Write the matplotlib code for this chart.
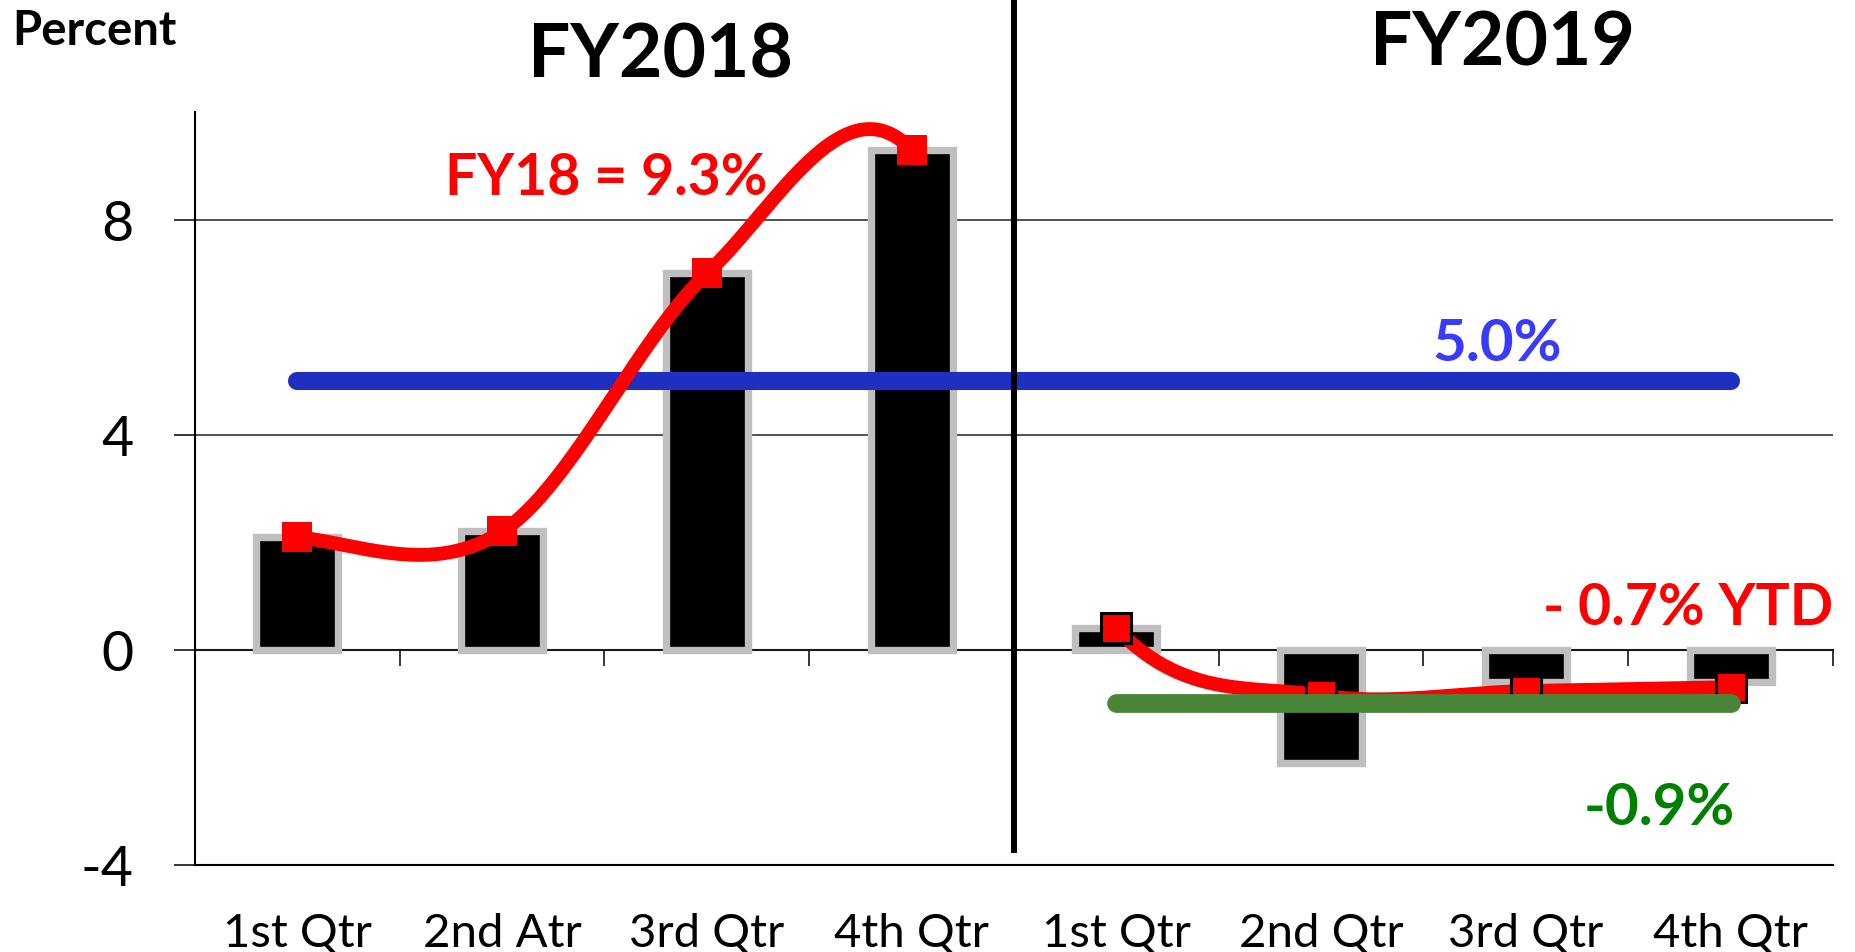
import numpy as np
import matplotlib
matplotlib.use('Agg')
import matplotlib.pyplot as plt

plt.rcParams['font.family'] = ['Lato', 'DejaVu Sans']

# data
quarters = ['1st Qtr', '2nd Atr', '3rd Qtr', '4th Qtr',
            '1st Qtr', '2nd Qtr', '3rd Qtr', '4th Qtr']
quarterly = [2.1, 2.2, 7.0, 9.3, 0.4, -2.1, -0.6, -0.6]
fy18_line = [2.1, 2.2, 7.0, 9.3]
fy19_ytd = [0.4, -0.85, -0.77, -0.7]
target = 5.0
fy19_level = -1.0


def smooth(xs, ys, m_start, m_end, n=60):
    # cubic hermite through the points, catmull-rom slopes inside
    xs = np.asarray(xs, float)
    ys = np.asarray(ys, float)
    m = np.empty(len(xs))
    m[0], m[-1] = m_start, m_end
    m[1:-1] = (ys[2:] - ys[:-2]) / (xs[2:] - xs[:-2])
    outx, outy = [], []
    for i in range(len(xs) - 1):
        h = xs[i + 1] - xs[i]
        t = np.linspace(0, 1, n)
        h00 = 2*t**3 - 3*t**2 + 1
        h10 = t**3 - 2*t**2 + t
        h01 = -2*t**3 + 3*t**2
        h11 = t**3 - t**2
        outx.append(xs[i] + t*h)
        outy.append(h00*ys[i] + h10*h*m[i] + h01*ys[i+1] + h11*h*m[i+1])
    return np.concatenate(outx), np.concatenate(outy)


x = np.arange(1, len(quarters) + 1)
x18 = x[:4]
x19 = x[4:]

fig = plt.figure(figsize=(18.55, 9.53), dpi=100)
ax = fig.add_axes([0.1051, 0.0916, 0.8830, 0.7896])

ax.bar(x, quarterly, width=0.4, color='black', edgecolor='#BFBFBF',
       linewidth=5.3, zorder=2)

ax.plot([x[0], x[-1]], [target, target], color='#1F30C0', lw=13,
        solid_capstyle='round', zorder=3)

sx, sy = smooth(x18, fy18_line, -0.5, -4.0)
ax.plot(sx, sy, color='red', lw=10, zorder=4)
ax.plot(x18, fy18_line, 's', color='red', ms=22, mew=0, zorder=4)

sx, sy = smooth(x19, fy19_ytd, -4.0, 0.05)
ax.plot(sx, sy, color='red', lw=10, zorder=4)
ax.plot(x19, fy19_ytd, 's', mfc='red', mec='black', ms=21, mew=2.2, zorder=4)

ax.plot([x19[0], x19[-1]], [fy19_level, fy19_level], color='#4A863A', lw=13.5,
        solid_capstyle='round', zorder=5)

# divider between the two years
ax.plot([4.5, 4.5], [-3.72, 12.03], color='black', lw=4.3, clip_on=False, zorder=6)

ax.set_xlim(0.5, 8.5)
ax.set_ylim(-4, 10)
ax.set_yticks([-4, 0, 4, 8])
ax.set_yticklabels(['-4', '0', '4', '8'])
ax.set_xticks(x)
ax.set_xticklabels(quarters)
ax.yaxis.grid(True, color='#222222', lw=1.1)
ax.set_axisbelow(True)
ax.tick_params(axis='y', direction='out', length=15, width=1.1, pad=29, labelsize=40)
ax.tick_params(axis='x', length=0, pad=34, labelsize=34)
ax.spines['top'].set_visible(False)
ax.spines['right'].set_visible(False)
ax.spines['left'].set_linewidth(1.5)
ax.spines['bottom'].set_linewidth(1.5)

# zero line with category boundary ticks
sec = ax.secondary_xaxis(4 / 14)
sec.set_xticks(np.arange(1.5, 9.0, 1.0))
sec.tick_params(direction='out', length=11.5, width=1.1, labelbottom=False)
sec.spines['bottom'].set_linewidth(1.5)

fig.text(12/1855, 1 - 45/953, 'Percent', fontsize=34, fontweight='bold',
         ha='left', va='baseline')
fig.text(661/1855, 1 - 77/953, 'FY2018', fontsize=54, fontweight='bold',
         ha='center', va='baseline')
fig.text(1503/1855, 1 - 65/953, 'FY2019', fontsize=54, fontweight='bold',
         ha='center', va='baseline')

ax.text(2.51, 8.48, 'FY18 = 9.3%', color='red', fontsize=41, fontweight='bold',
        ha='center', va='baseline', zorder=7)
ax.text(6.86, 5.39, '5.0%', color='#3A3AFF', fontsize=42, fontweight='bold',
        ha='center', va='baseline', zorder=7)
ax.text(8.5, 0.48, '- 0.7% YTD', color='red', fontsize=41, fontweight='bold',
        ha='right', va='baseline', zorder=7, clip_on=False)
ax.text(7.65, -3.24, '-0.9%', color='#008000', fontsize=42, fontweight='bold',
        ha='center', va='baseline', zorder=7)

fig.savefig('out.png', dpi=100)
